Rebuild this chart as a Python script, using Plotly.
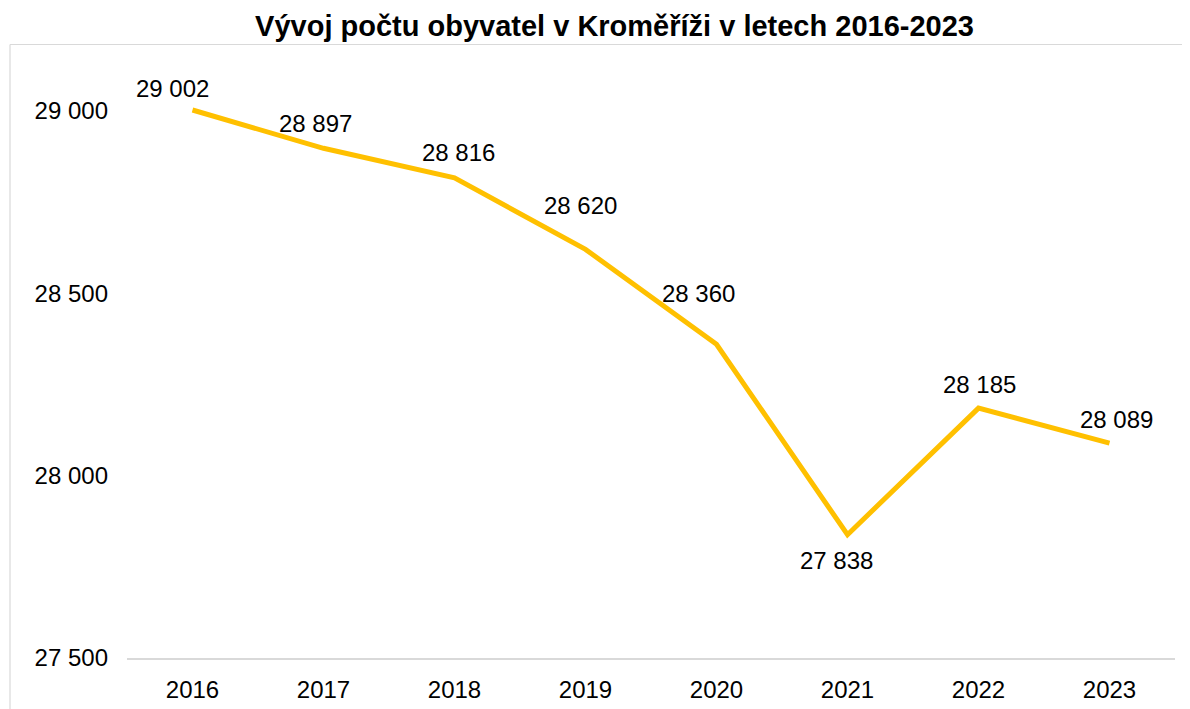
import plotly.graph_objects as go

years = ["2016", "2017", "2018", "2019", "2020", "2021", "2022", "2023"]
population = [29002, 28897, 28816, 28620, 28360, 27838, 28185, 28089]
y_ticks = [27500, 28000, 28500, 29000]
label_text = ["29 002", "28 897", "28 816", "28 620", "28 360", "27 838", "28 185", "28 089"]
# label offsets in pixels (style only)
label_dx = [-20, -8, 4, -5, -18, -11, 1, 7]
label_dy = [22, 25, 25, 44, 51, -26, 24, 24]

# page has an 8px body margin, so the figure is 8px smaller and shifted
W, H = 1182, 701
L, R, T, B = 119, 15, 48, 51
pw, ph = W - L - R, H - T - B

fig = go.Figure()
fig.add_trace(go.Scatter(
    x=years, y=population, mode="lines",
    line=dict(color="#FFC000", width=5),
    hoverinfo="skip", showlegend=False,
))

annotations = []
for i, (y, t, dx, dy) in enumerate(zip(population, label_text, label_dx, label_dy)):
    annotations.append(dict(x=i, y=y, xref="x", yref="y", text=t, showarrow=False,
                            xanchor="center", yanchor="middle",
                            xshift=dx, yshift=dy,
                            font=dict(size=24, color="#000000")))

bx = (2 - L) / pw
by = (H - B - 36.5) / ph
shapes = [
    dict(type="line", xref="paper", yref="paper", x0=bx, x1=1.5, y0=by, y1=by,
         line=dict(color="#D9D9D9", width=1.2)),
    dict(type="line", xref="paper", yref="paper", x0=bx, x1=bx, y0=by, y1=-0.5,
         line=dict(color="#D9D9D9", width=1.2)),
]

fig.update_layout(
    width=W, height=H,
    margin=dict(l=L, r=R, t=T, b=B, pad=0, autoexpand=False),
    paper_bgcolor="white", plot_bgcolor="white",
    separators=", ",
    font=dict(family="Liberation Sans, Arial", size=24, color="#000000"),
    title=dict(text="<b>Vývoj počtu obyvatel v Kroměříži v letech 2016-2023</b>",
               x=606.5 / W, xanchor="center", xref="container",
               y=1 - 18 / H, yanchor="middle", yref="container",
               font=dict(family="Liberation Sans, Arial", size=29, color="#000000")),
    xaxis=dict(type="category", range=[-0.5, 7.5], showgrid=False, automargin=False,
               showline=True, linecolor="#D9D9D9", linewidth=1.5,
               ticks="", ticklabelstandoff=9, zeroline=False,
               tickfont=dict(size=24)),
    yaxis=dict(range=[27500, 29150], tickvals=y_ticks, tickformat=",d", automargin=False,
               showgrid=False, showline=False, zeroline=False, ticks="",
               ticklabelstandoff=18, tickfont=dict(size=24)),
    annotations=annotations,
    shapes=shapes,
)

fig.write_html("out.html")
